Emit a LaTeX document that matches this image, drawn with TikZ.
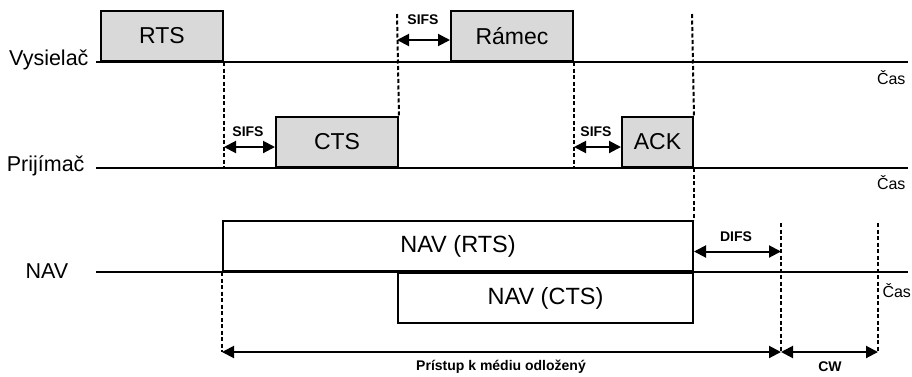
\documentclass[tikz,border=0pt]{standalone}
\usepackage{fontspec}
\setmainfont{Liberation Sans}
\usetikzlibrary{arrows.meta,positioning}

\begin{document}
\begin{tikzpicture}[x=1pt,y=-1pt,
    frame/.style={draw,line width=2pt,fill=black!15,inner sep=0pt,anchor=south west,
      minimum height=50pt,font=\fontsize{23}{23}\selectfont},
    navbox/.style={draw,line width=2pt,inner sep=0pt,minimum height=50pt,
      font=\fontsize{23.5}{23.5}\selectfont},
    axis/.style={line width=2.6pt},
    guide/.style={line width=2pt,dash pattern=on 4pt off 2.5pt},
    span/.style={{Triangle[length=12pt,width=12pt]}-{Triangle[length=12pt,width=12pt]},line width=2pt},
    gaplabel/.style={font=\bfseries\fontsize{14}{14}\selectfont},
    station/.style={font=\fontsize{21.5}{21.5}\selectfont},
    timelabel/.style={font=\fontsize{16}{16}\selectfont}]
    \useasboundingbox (0,0) rectangle (912,376);

    % stations
    \node[station,anchor=east] (vys) at (92,60) {Vysielač};
    \node[station,anchor=east] (pri) at (88,166) {Prijímač};
    \node[station] (nav) at (47,271) {NAV};

    % frames
    \node[frame,minimum width=122pt] (rts) at (100,62) {RTS};
    \node[frame,minimum width=122pt] (ramec) at (450,62) {Rámec};
    \node[frame,minimum width=122pt] (cts) at (275,168) {CTS};
    \node[frame,minimum width=71pt] (ack) at (621,168) {ACK};
    \node[navbox,anchor=south west,minimum width=470pt] (navrts) at (222,272) {NAV (RTS)};
    \node[navbox,anchor=north west,minimum width=295pt] (navcts) at (397,272) {NAV (CTS)};

    % time axes
    \coordinate (a1) at (96,62);  \coordinate (b1) at (908,62);
    \coordinate (a2) at (96,168); \coordinate (b2) at (908,168);
    \coordinate (a3) at (96,272); \coordinate (b3) at (908,272);
    \draw[axis] (a1) -- (b1);
    \draw[axis] (a2) -- (b2);
    \draw[axis] (a3) -- (b3);
    \node[timelabel,anchor=east] (cas1) at (909,78) {Čas};
    \node[timelabel,anchor=east] (cas2) at (909,183) {Čas};
    \node[timelabel,anchor=west] (cas3) at (879,291) {Čas};

    % dashed guides
    \coordinate (top1) at (397,14);
    \coordinate (top2) at (692,14);
    \coordinate (difs) at (781,223);
    \coordinate (cw) at (878,223);
    \coordinate (waitA) at (222,352);
    \coordinate (waitB) at (781,352);
    \coordinate (waitC) at (878,352);
    \draw[guide] (rts.south east) -- (rts.south east |- cts.south);
    \draw[guide] (top1) -- (cts.north east);
    \draw[guide] (ramec.south east) -- (ramec.south east |- ack.south);
    \draw[guide] (top2) -- (ack.north east);
    \draw[guide] (ack.south east) -- (navrts.north east);
    \draw[guide] (navrts.south west) -- (waitA);
    \draw[guide] (difs) -- (waitB);
    \draw[guide] (cw) -- (waitC);

    % intervals
    \draw[span] ([yshift=-4pt]ramec.west -| top1) -- ([yshift=-4pt]ramec.west);
    \draw[span] ([yshift=-5pt]cts.west -| rts.east) -- ([yshift=-5pt]cts.west);
    \draw[span] ([yshift=-5pt]ack.west -| ramec.east) -- ([yshift=-5pt]ack.west);
    \draw[span] ([yshift=-5.5pt]navrts.east) -- ([yshift=-5.5pt]navrts.east -| difs);
    \draw[span] (waitA) -- (waitB);
    \draw[span] (waitB) -- (waitC);

    \node[gaplabel] (sifs1) at (423,20) {SIFS};
    \node[gaplabel] (sifs2) at (248,132) {SIFS};
    \node[gaplabel] (sifs3) at (596,132) {SIFS};
    \node[gaplabel] (difslbl) at (736,237) {DIFS};
    \node[gaplabel] (wait) at (501,367) {Prístup k médiu odložený};
    \node[gaplabel] (cwlbl) at (830,367) {CW};
\end{tikzpicture}
\end{document}
